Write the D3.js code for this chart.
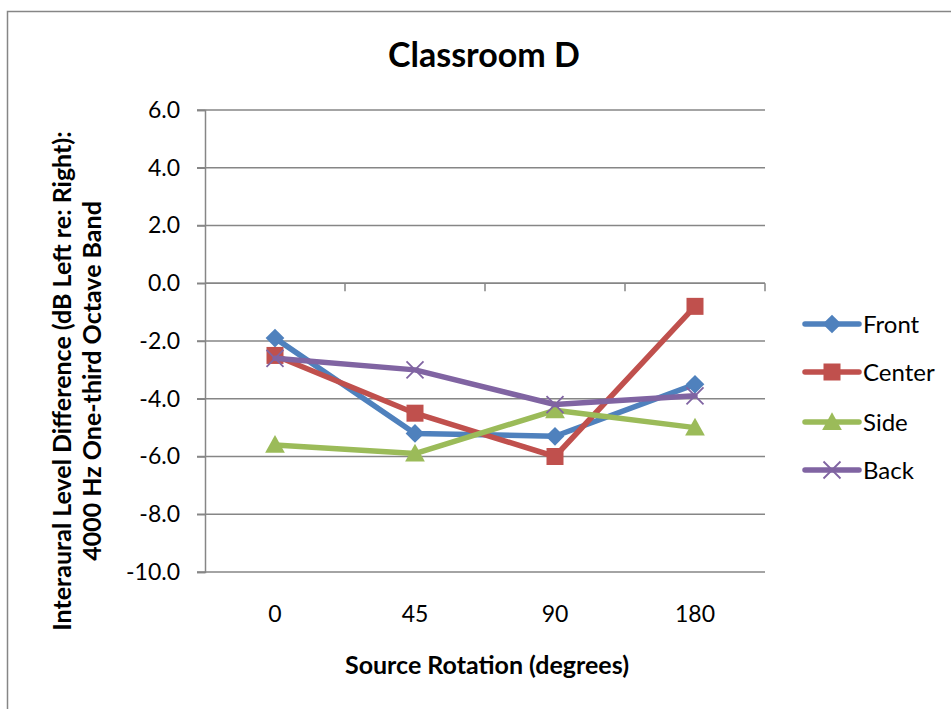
<!DOCTYPE html>
<html>
<head>
<meta charset="utf-8">
<script src="https://cdn.jsdelivr.net/npm/d3@7"></script>
<style>
  html, body { margin: 0; padding: 0; background: #fff; }
  svg { display: block; }
  text { font-family: Lato, "Open Sans", sans-serif; fill: #000; }
</style>
</head>
<body>
<svg id="chart" width="951" height="709"></svg>
<script>
// ---- data ----
const categories = ["0", "45", "90", "180"];
const seriesNames = ["Front", "Center", "Side", "Back"];
const frontValues  = [-1.9, -5.2, -5.3, -3.5];
const centerValues = [-2.5, -4.5, -6.0, -0.8];
const sideValues   = [-5.6, -5.9, -4.4, -5.0];
const backValues   = [-2.6, -3.0, -4.2, -3.9];
const yTickValues  = [-10, -8, -6, -4, -2, 0, 2, 4, 6];
const titleText = "Classroom D";
const xTitleText = "Source Rotation (degrees)";
const yTitleLines = ["Interaural Level Difference (dB Left re: Right):", "4000 Hz One-third Octave Band"];

const seriesColors = ["#4F81BD", "#C0504D", "#9BBB59", "#8064A2"];
const seriesMarkers = ["diamond", "square", "triangle", "cross"];
const series = seriesNames.map((name, i) => ({
  name,
  values: [frontValues, centerValues, sideValues, backValues][i],
  color: seriesColors[i],
  marker: seriesMarkers[i]
}));

// ---- layout ----
const svg = d3.select("#chart");
const plot = { left: 205, right: 765, top: 110, bottom: 572 };
const gridColor = "#868686";

const x = d3.scaleBand().domain(categories).range([plot.left, plot.right]).paddingInner(0).paddingOuter(0);
const y = d3.scaleLinear().domain([-10, 6]).range([plot.bottom, plot.top]);
const cx = c => x(c) + x.bandwidth() / 2;
const fmt = d => d3.format(".1f")(d).replace("\u2212", "-");

// outer border
svg.append("rect")
  .attr("x", 7.5).attr("y", 11.5)
  .attr("width", 1000).attr("height", 800)
  .attr("fill", "none").attr("stroke", gridColor).attr("stroke-width", 1.5);

// title
svg.append("text")
  .attr("x", 484).attr("y", 67)
  .attr("text-anchor", "middle")
  .attr("font-size", 34).attr("font-weight", "bold")
  .text(titleText);

// gridlines
svg.append("g").selectAll("line")
  .data(yTickValues)
  .join("line")
  .attr("x1", plot.left - 8).attr("x2", plot.right)
  .attr("y1", d => y(d)).attr("y2", d => y(d))
  .attr("stroke", gridColor).attr("stroke-width", 1.5);

// y axis
const yAxis = d3.axisLeft(y).tickValues(yTickValues).tickFormat(fmt).tickSize(8).tickPadding(17);
const gy = svg.append("g").attr("transform", `translate(${plot.left},0)`).call(yAxis);
gy.select(".domain").attr("stroke", gridColor).attr("stroke-width", 1.5);
gy.selectAll(".tick line").attr("stroke", gridColor).attr("stroke-width", 1.5);
gy.selectAll(".tick text").attr("font-size", 23).attr("font-family", "Lato").attr("fill", "#000");

// x axis line at zero with ticks at band boundaries
svg.append("line")
  .attr("x1", plot.left).attr("x2", plot.right)
  .attr("y1", y(0)).attr("y2", y(0))
  .attr("stroke", gridColor).attr("stroke-width", 1.5);
svg.append("g").selectAll("line")
  .data(categories)
  .join("line")
  .attr("x1", d => x(d) + x.bandwidth()).attr("x2", d => x(d) + x.bandwidth())
  .attr("y1", y(0)).attr("y2", y(0) + 8)
  .attr("stroke", gridColor).attr("stroke-width", 1.5);

// x category labels at bottom
svg.append("g").selectAll("text")
  .data(categories)
  .join("text")
  .attr("x", d => cx(d)).attr("y", 622)
  .attr("text-anchor", "middle")
  .attr("font-size", 23)
  .text(d => d);

// axis titles
svg.append("text")
  .attr("x", 487).attr("y", 674)
  .attr("text-anchor", "middle")
  .attr("font-size", 25).attr("font-weight", "bold")
  .text(xTitleText);

const yt = svg.append("text")
  .attr("transform", "translate(71,381) rotate(-90)")
  .attr("text-anchor", "middle")
  .attr("font-size", 25).attr("font-weight", "bold");
yt.selectAll("tspan").data(yTitleLines).join("tspan")
  .attr("x", 0).attr("dy", (d, i) => i === 0 ? 0 : 30)
  .text(d => d);

// markers
function drawMarker(g, type, color, size) {
  if (type === "diamond") {
    const s = size * 0.55;
    g.append("path").attr("d", `M0,${-s}L${s},0L0,${s}L${-s},0Z`).attr("fill", color);
  } else if (type === "square") {
    const s = size * 0.5;
    g.append("rect").attr("x", -s).attr("y", -s).attr("width", 2 * s).attr("height", 2 * s).attr("fill", color);
  } else if (type === "triangle") {
    const s = size * 0.58;
    g.append("path").attr("d", `M0,${-s}L${s},${s * 0.8}L${-s},${s * 0.8}Z`).attr("fill", color);
  } else if (type === "cross") {
    const s = size * 0.5;
    g.append("path").attr("d", `M${-s},${-s}L${s},${s}M${-s},${s}L${s},${-s}`)
      .attr("stroke", color).attr("stroke-width", 1.8).attr("fill", "none");
  }
}

const line = d3.line().x((d, i) => cx(categories[i])).y(d => y(d));
series.forEach(s => {
  const g = svg.append("g");
  g.append("path").datum(s.values)
    .attr("d", line)
    .attr("fill", "none").attr("stroke", s.color)
    .attr("stroke-width", 5.5).attr("stroke-linejoin", "round").attr("stroke-linecap", "round");
  s.values.forEach((v, i) => {
    const mg = g.append("g").attr("transform", `translate(${cx(categories[i])},${y(v)})`);
    drawMarker(mg, s.marker, s.color, 17);
  });
});

// legend
const legendRows = [324, 372, 422, 470];
series.forEach((s, i) => {
  const ly = legendRows[i];
  const g = svg.append("g");
  g.append("line").attr("x1", 805).attr("x2", 859).attr("y1", ly).attr("y2", ly)
    .attr("stroke", s.color).attr("stroke-width", 5.5).attr("stroke-linecap", "round");
  const mg = g.append("g").attr("transform", `translate(832,${ly})`);
  drawMarker(mg, s.marker, s.color, 17);
  g.append("text").attr("x", 863).attr("y", ly + 8.5).attr("font-size", 24).text(s.name);
});
</script>
</body>
</html>
